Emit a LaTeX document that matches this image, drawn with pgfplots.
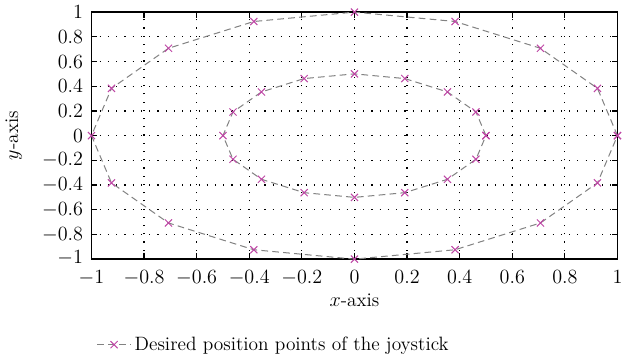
\documentclass[border=0pt]{standalone}
\usepackage{pgfplots}
\pgfplotsset{compat=1.18}
\definecolor{mk}{RGB}{190,70,165}
\definecolor{ln}{RGB}{130,130,130}
\begin{document}
\begin{tikzpicture}
\begin{axis}[
  scale only axis,
  width=313pt, height=147pt,
  xmin=-1, xmax=1, ymin=-1, ymax=1,
  xtick={-1,-0.8,...,1}, ytick={-1,-0.8,...,1},
  xticklabels={$-1$,$-0.8$,$-0.6$,$-0.4$,$-0.2$,$0$,$0.2$,$0.4$,$0.6$,$0.8$,$1$},
  yticklabels={\raisebox{-2.5pt}[0pt][0pt]{$-1$},$-0.8$,$-0.6$,$-0.4$,$-0.2$,$0$,$0.2$,$0.4$,$0.6$,$0.8$,$1$},
  tick label style={font=\fontsize{11.5}{13}\selectfont},
  xticklabel style={yshift=-3.5pt},
  yticklabel style={xshift=-1.5pt},
  label style={font=\fontsize{11.5}{13}\selectfont},
  tick align=inside, tick pos=both,
  major tick length=3.5pt,
  grid=major, grid style={black, line width=0.7pt, dash pattern=on 0.7pt off 4.2pt},
  axis line style={line width=0.9pt},
  tick style={black, line width=0.7pt},
  xlabel={$x$-axis}, ylabel={$y$-axis},
  xlabel style={yshift=2pt},
  ylabel style={yshift=5pt},
  legend style={draw=none, at={(0,-0.285)}, anchor=north west, fill=none, font=\fontsize{11.5}{13}\selectfont},
  legend cell align=left,
  legend image code/.code={
    \draw[#1, mark repeat=2, mark phase=2] plot coordinates {(0cm,0cm) (0.35cm,0cm) (0.7cm,0cm)};
  },
]
\addplot[ln, line width=0.6pt, dash pattern=on 4pt off 2.5pt, mark=x, mark size=3pt, mark options={mk, solid, line width=0.6pt}] coordinates {
(1,0) (0.9239,0.3827) (0.7071,0.7071) (0.3827,0.9239) (0,1) (-0.3827,0.9239) (-0.7071,0.7071) (-0.9239,0.3827)
(-1,0) (-0.9239,-0.3827) (-0.7071,-0.7071) (-0.3827,-0.9239) (0,-1) (0.3827,-0.9239) (0.7071,-0.7071) (0.9239,-0.3827) (1,0)
};
\addlegendentry{Desired position points of the joystick}
\addplot[ln, line width=0.6pt, dash pattern=on 4pt off 2.5pt, mark=x, mark size=3pt, mark options={mk, solid, line width=0.6pt}, forget plot] coordinates {
(0.5,0) (0.4619,0.1913) (0.3536,0.3536) (0.1913,0.4619) (0,0.5) (-0.1913,0.4619) (-0.3536,0.3536) (-0.4619,0.1913)
(-0.5,0) (-0.4619,-0.1913) (-0.3536,-0.3536) (-0.1913,-0.4619) (0,-0.5) (0.1913,-0.4619) (0.3536,-0.3536) (0.4619,-0.1913) (0.5,0)
};
\end{axis}
\end{tikzpicture}
\end{document}
